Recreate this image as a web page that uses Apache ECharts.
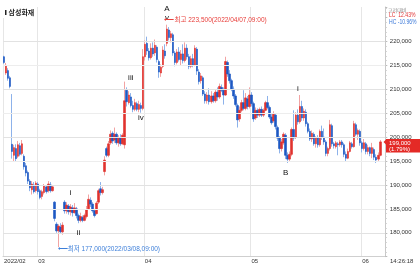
<!DOCTYPE html>
<html><head><meta charset="utf-8">
<script src="https://cdn.jsdelivr.net/npm/echarts@6/dist/echarts.min.js"></script>
<style>html,body{margin:0;padding:0;background:#fff}#c{width:420px;height:266px}</style>
</head><body><div id="c"></div>
<script>
// OHLC in thousands of won: [open, close, low, high]
const feb = [
[216.8,215.6,215.3,217.0],[213.4,215.0,213.0,215.5],[213.9,212.3,211.8,214.4],[212.4,210.6,210.2,212.8],
[198.5,197.0,195.5,209.0],[196.2,197.8,195.0,198.4],[197.6,195.5,194.8,198.5],[196.0,198.4,195.6,199.2],
[198.2,196.4,196.0,198.8],[196.6,198.6,196.2,199.4],[196.0,193.8,193.2,196.4],[194.0,192.5,191.8,194.6],
[192.6,190.8,190.2,193.0],[190.8,189.4,188.7,191.2],[189.0,190.2,188.0,190.8],[190.0,188.6,188.2,190.6],
[188.8,190.4,188.4,190.8]
];
const mar = [
[190.2,188.6,188.0,190.6],[188.8,187.4,187.0,189.2],[187.6,188.6,187.0,189.0],[188.4,189.8,188.0,190.2],
[189.6,188.6,188.2,190.0],[188.8,190.2,188.4,190.8],[190.0,188.8,188.4,190.6],[188.8,189.6,188.6,190.0],
[186.4,183.0,182.4,186.6],[181.8,180.4,180.0,182.2],[180.4,181.4,177.0,181.8],[181.2,180.2,179.8,182.0],
[180.2,181.6,179.6,182.2],[186.4,184.6,184.0,186.8],[184.6,185.8,184.0,186.4],[185.6,184.4,183.8,186.0],
[184.4,185.4,183.6,186.0],[185.2,184.2,183.4,185.8],[184.2,185.2,184.0,186.2],[185.0,183.6,183.0,185.4],
[183.6,182.6,182.0,184.0],[182.6,183.4,182.2,184.2],[183.2,182.6,182.2,183.6],[182.6,183.6,182.4,184.0],
[183.4,184.8,183.0,185.6],[185.0,187.0,184.8,188.0],[186.8,186.0,185.4,187.4],[186.0,184.6,184.2,186.4],
[184.6,183.6,183.2,185.0],[184.0,186.2,183.8,186.6],[186.4,188.8,186.0,189.2],[189.2,188.4,187.8,190.6],
[188.4,189.0,188.0,189.6],[192.8,195.2,192.0,196.0],[197.6,196.2,195.8,198.0],[196.2,198.6,195.8,199.2],
[198.8,200.6,198.4,201.4],[200.8,199.2,198.6,201.2],[199.4,200.6,198.8,202.0],[200.6,198.8,198.4,201.0],
[198.8,199.8,198.0,200.4],[199.8,198.6,198.2,200.6],[198.6,200.4,198.4,200.8],[198.4,207.6,197.6,211.6],
[209.8,207.4,206.4,210.4],[207.2,208.8,206.8,209.6],[208.4,206.6,206.2,209.2],[206.6,205.8,205.2,207.6],
[205.8,207.2,205.4,208.0],[207.0,205.8,205.4,207.4],[205.8,206.8,205.2,207.6],[206.6,206.0,205.1,207.2],
[206.0,216.8,205.6,218.4]
];
const apr = [
[216.8,219.4,216.0,220.2],[219.6,218.0,217.2,221.0],[218.0,216.6,216.0,218.6],[216.6,218.6,216.2,219.6],
[218.6,217.4,216.8,219.8],[217.6,219.2,217.0,220.4],[218.8,216.2,215.6,219.2],[215.8,213.6,212.4,216.2],
[213.4,214.6,212.6,215.2],[214.8,218.2,214.4,219.0],[218.0,217.0,216.4,219.4],[219.6,222.6,219.0,223.5],
[222.4,220.8,220.2,223.0],[220.8,221.6,219.8,222.2],[221.4,217.6,217.0,221.8],[217.6,215.6,214.8,218.0],
[215.6,217.8,215.2,218.4],[217.8,216.2,215.8,218.8],[216.2,217.4,215.0,218.2],[217.4,216.0,215.4,219.4],
[216.0,218.6,215.6,219.8],[218.6,216.8,216.2,219.4],[216.8,214.8,214.2,217.4],[214.8,216.4,214.4,217.0],
[216.4,215.0,214.6,217.4],[215.0,218.6,214.8,219.2],[218.4,213.8,213.0,218.8],[213.6,211.6,211.0,214.2],
[211.8,212.8,211.2,213.4],[212.4,209.0,208.6,212.8],[209.0,207.6,207.0,209.6],[207.6,208.8,207.0,209.4],
[208.8,207.4,206.8,210.2],[207.4,208.6,207.0,209.6],[208.6,207.6,207.2,209.2],[207.6,209.4,207.2,210.0],
[209.4,208.4,207.6,210.4],[208.4,210.6,208.0,211.2],[210.4,209.8,209.4,211.0],[209.8,208.8,206.8,210.4],
[208.8,215.8,208.6,216.8],[215.6,213.2,212.6,216.0],[213.2,211.8,211.2,214.0],[211.8,210.0,209.6,212.2],
[210.0,208.6,208.0,210.6],[208.6,206.8,206.4,209.0],[206.6,203.6,202.0,207.0],[203.8,205.6,203.2,206.4],
[205.6,207.2,205.2,207.8],[207.2,206.0,205.6,209.8],[206.0,208.2,205.6,209.2],[208.0,206.4,205.8,208.6],
[206.4,208.8,206.0,210.4]
];
const may = [
[208.8,207.0,206.4,209.4],[207.0,203.8,203.2,207.4],[204.0,205.6,203.6,206.2],[205.6,204.6,204.0,206.0],
[204.6,205.8,204.2,206.2],[205.8,204.6,204.2,206.4],[204.6,205.6,204.2,206.0],[205.6,207.2,205.4,207.6],
[207.2,206.2,205.8,208.6],[206.2,204.2,203.8,206.6],[204.2,203.0,202.6,205.0],[203.4,204.8,203.0,205.4],
[204.6,202.2,201.6,205.0],[202.0,199.8,199.2,202.4],[199.8,197.6,196.6,200.2],[197.6,199.0,197.0,199.6],
[198.8,200.6,198.4,201.0],[200.4,196.2,195.4,200.8],[196.2,195.4,194.6,196.8],[195.4,196.4,195.0,197.0],
[196.4,201.6,196.0,202.0],[201.6,199.8,199.2,205.6],[200.0,204.6,199.6,205.2],[204.6,203.2,202.6,205.8],
[203.2,206.4,202.8,208.8],[206.4,204.0,203.4,207.6],[204.0,205.4,203.4,206.0],[205.2,202.8,202.2,205.8],
[202.8,201.2,200.8,203.2],[201.2,199.6,199.2,201.8],[199.6,200.8,199.0,201.4],[200.6,198.6,198.2,201.0],
[198.6,199.8,197.8,200.2],[199.8,198.4,197.8,200.4],[198.4,201.2,198.0,201.6],[201.2,200.0,199.4,202.4],
[200.0,199.0,198.4,201.8],[199.0,196.6,196.0,199.4],[196.6,197.6,196.0,198.0],[197.6,202.6,197.2,203.6],
[202.4,198.6,198.0,202.8],[198.6,198.2,197.6,199.0],[198.0,198.8,197.6,199.2],[198.6,198.4,196.2,199.0],
[198.4,199.0,198.0,199.4],[199.0,198.4,197.8,199.4],[198.4,196.4,195.8,198.8],[196.4,195.6,194.8,197.0],
[195.6,197.0,195.4,197.6],[197.0,198.8,196.8,199.2],[198.6,198.0,197.6,199.0],[198.0,202.8,197.8,203.4],
[202.6,200.6,200.2,203.0],[200.6,201.4,199.4,201.8],[201.2,198.8,198.2,201.6]
];
const jun = [
[198.8,197.6,196.8,199.2],[197.6,198.8,197.2,199.6],[198.6,197.0,196.4,199.0],[197.0,197.8,196.4,198.4],
[197.8,196.6,196.0,198.0],[196.6,197.8,195.6,198.8],[197.4,195.8,195.2,197.8],[195.8,195.2,194.6,196.4],
[195.4,196.2,194.8,196.8],[196.2,199.0,196.0,199.4]
];
const monthLabels = ['2022/02','03','04','05','06'];
const monthData = [feb, mar, apr, may, jun];
const tickValues = [180,185,190,195,200,205,210,215,220];
const emptySlots = 2;
const stockName = '삼성화재';
const highTime = '2022/04/07,09:00';
const lowTime = '2022/03/08,09:00';
const dayChange = '(1.79%)';
const clockText = '14:26:18';
// wave labels: [text, candle index, price level]
const waves = [['A',81,226.8],['v',81,225.0],['iii',62.9,212.5],['iv',67.6,204.0],
               ['i',32.8,188.4],['ii',36.9,180.0],['B',140.4,192.5],['i',145.8,210.0]];

const ohlc = [].concat(...monthData);
const monthStart = []; {let k=0; monthData.forEach(m=>{monthStart.push(k); k+=m.length;});}
const N = ohlc.length + emptySlots;
const categories = Array.from({length:N},(_,i)=>String(i));
const bodies = ohlc.map(d=>[d[0],d[1],Math.min(d[0],d[1]),Math.max(d[0],d[1])]);
const fmt = v => String(Math.round(v*1000)).replace(/\B(?=(\d{3})+(?!\d))/g, ',');
const FONT = "'Liberation Sans','Noto Sans CJK KR',sans-serif";

let hiIdx=0, loIdx=0;
ohlc.forEach((d,i)=>{ if(d[3]>ohlc[hiIdx][3]) hiIdx=i; if(d[2]<ohlc[loIdx][2]) loIdx=i; });
const hi = ohlc[hiIdx][3], lo = ohlc[loIdx][2];
const lastIdx = ohlc.length-1, last = ohlc[lastIdx][1];

const chart = echarts.init(document.getElementById('c'));
const wavePoints = waves.map(w=>({coord:[w[1],w[2]], symbol:'circle', symbolSize:1,
  itemStyle:{color:'rgba(0,0,0,0)'},
  label:{show:true, position:'inside', formatter:w[0], color:'#111', fontSize:8, fontFamily:FONT}}));
const hlPoints = [
  {coord:[hiIdx,hi], symbol:'circle', symbolSize:1, itemStyle:{color:'rgba(0,0,0,0)'},
   label:{show:true, position:'right', distance:0, offset:[-3,-4.5], color:'#e8403c', fontSize:6.5, fontFamily:FONT,
     formatter:'⟵최고 '+fmt(hi)+'('+highTime+')'}},
  {coord:[loIdx,lo], symbol:'circle', symbolSize:1, itemStyle:{color:'rgba(0,0,0,0)'},
   label:{show:true, position:'right', distance:0, offset:[-1,2.5], color:'#3d7fd9', fontSize:6.5, fontFamily:FONT,
     formatter:'⟵최저 '+fmt(lo)+'('+lowTime+')'}}
];

chart.setOption({
  animation:false,
  grid:{left:3,right:34.7,top:7,bottom:9.3},
  xAxis:{type:'category', data:categories, boundaryGap:true,
    axisLine:{lineStyle:{color:'#cfcfcf'}}, axisTick:{show:false},
    axisLabel:{interval:(i)=>monthStart.includes(i), formatter:(v,i)=>monthLabels[monthStart.indexOf(Number(v))],
      fontSize:6, color:'#333', margin:2, align:'left', fontFamily:FONT},
    splitLine:{show:true, interval:(i)=>monthStart.includes(i), lineStyle:{color:'#e6e6e6'}}},
  yAxis:{type:'value', position:'right', min:175, max:227.2, interval:5,
    axisLine:{show:true, lineStyle:{color:'#c8c8c8'}},
    axisTick:{show:true, length:2, lineStyle:{color:'#bbb'}},
    minorTick:{show:true, splitNumber:5, length:1.5, lineStyle:{color:'#ccc'}},
    splitLine:{show:false},
    axisLabel:{formatter:v=>tickValues.includes(v)?fmt(v):'', fontSize:6, color:'#333', margin:4.5, fontFamily:FONT}},
  series:[
    {type:'line', data:[], z:1, silent:true,
     markLine:{silent:true, symbol:['none','none'], label:{show:false}, animation:false,
       data:tickValues.map(v=>({yAxis:v, lineStyle:{color:v%10===0?'#e2e2e2':'#ededed', width:1, type:'solid'}}))}},
    {type:'candlestick', data:ohlc, barWidth:1, z:2,
     itemStyle:{color:'#f2a3a3', color0:'#8db2ea', borderColor:'#f2a3a3', borderColor0:'#8db2ea', borderWidth:1}},
    {type:'candlestick', data:bodies, barWidth:2, z:3,
     itemStyle:{color:'#e0322e', color0:'#1c58c3', borderColor:'#e0322e', borderColor0:'#1c58c3', borderWidth:0.6},
     markPoint:{silent:true, animation:false, data:wavePoints.concat(hlPoints)}}
  ]
});

const py = chart.convertToPixel({xAxisIndex:0,yAxisIndex:0},[lastIdx,last])[1];
const lc = ((last/lo-1)*100).toFixed(2)+'%';
const hc = ((last/hi-1)*100).toFixed(2)+'%';
chart.setOption({graphic:[
  {type:'rect', shape:{x:3,y:7,width:34,height:11}, style:{fill:'#fff'}, z:50},
  {type:'rect', shape:{x:5,y:10,width:1.5,height:5}, style:{fill:'#222'}, z:51},
  {type:'text', x:8.5, y:12.8, z:51, style:{text:stockName, fill:'#222', font:"bold 7px 'Noto Sans CJK KR'", verticalAlign:'middle'}},
  {type:'text', x:388, y:10, z:51, style:{text:'고저대비', fill:'#888', font:"5px 'Noto Sans CJK KR'", verticalAlign:'middle'}},
  {type:'text', x:389, y:15.7, scaleX:0.78, z:51, style:{text:'LC  '+lc, fill:'#e03030', font:"6.5px 'Liberation Sans'", verticalAlign:'middle'}},
  {type:'text', x:389, y:22.5, scaleX:0.78, z:51, style:{text:'HC '+hc, fill:'#3a78d8', font:"6.5px 'Liberation Sans'", verticalAlign:'middle'}},
  {type:'polygon', shape:{points:[[383.5,py],[386.5,py-3],[386.5,py+3]]}, style:{fill:'#e42a26'}, z:51},
  {type:'rect', shape:{x:386,y:py-3,width:34,height:13.5}, style:{fill:'#e42a26'}, z:51},
  {type:'text', x:389, y:py+1.8, z:52, style:{text:fmt(last), fill:'#fff', font:"6px 'Liberation Sans'", verticalAlign:'middle'}},
  {type:'text', x:389, y:py+7.2, z:52, style:{text:dayChange, fill:'#fff', font:"6px 'Liberation Sans'", verticalAlign:'middle'}},
  {type:'text', x:390, y:261, z:51, style:{text:clockText, fill:'#333', font:"6px 'Liberation Sans'", verticalAlign:'middle'}}
]});
</script></body></html>
